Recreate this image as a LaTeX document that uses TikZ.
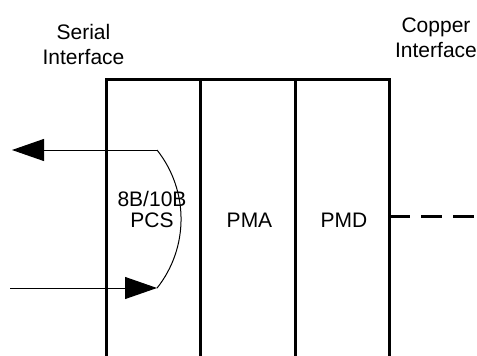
\documentclass[tikz,border=0pt]{standalone}
\usepackage{fontspec}
\setmainfont{Liberation Sans}
\usetikzlibrary{arrows.meta}

\begin{document}
\begin{tikzpicture}[x=1pt,y=-1pt,
  wall/.style={line width=3pt},
  flow/.style={line width=1pt},
  bigtip/.style={-{Triangle[length=32pt,width=22pt]}},
  lbl/.style={font=\fontsize{21}{25}\selectfont,align=center,inner sep=0pt}]
  \useasboundingbox (0,0) rectangle (477,356);
  \coordinate (tl) at (106,79);
  \coordinate (tr) at (389,79);
  \coordinate (bl) at (106,356);
  \coordinate (br) at (389,356);
  \coordinate (d1t) at (200,79);
  \coordinate (d1b) at (200,356);
  \coordinate (d2t) at (295,79);
  \coordinate (d2b) at (295,356);
  \coordinate (pcsTop) at (157,150);
  \coordinate (pcsBot) at (157,288);
  \coordinate (outEnd) at (12,150);
  \coordinate (inStart) at (10,288);
  \coordinate (line) at (389,216);
  \coordinate (lineEnd) at (477,216);
  \node[lbl] (serial) at (83.5,44.5) {Serial\\Interface};
  \node[lbl] (copper) at (436,37.5) {Copper\\Interface};
  \node[lbl,font=\fontsize{21}{21}\selectfont] (pcs) at (152,209.5) {8B/10B\\PCS};
  \node[lbl] (pma) at (249.5,220.5) {PMA};
  \node[lbl] (pmd) at (344,220.5) {PMD};
  \draw[wall] (bl) |- (tr) -- (br);
  \draw[wall] (d1t) -- (d1b);
  \draw[wall] (d2t) -- (d2b);
  \draw[wall,dash pattern=on 21pt off 11pt] (line) -- (lineEnd);
  \draw[flow,bigtip] (pcsTop) -- (outEnd);
  \draw[flow] (pcsTop) arc[start angle=38.4,end angle=-38.4,radius=111.2pt];
  \draw[flow,bigtip] (inStart) -- (pcsBot);
\end{tikzpicture}
\end{document}
